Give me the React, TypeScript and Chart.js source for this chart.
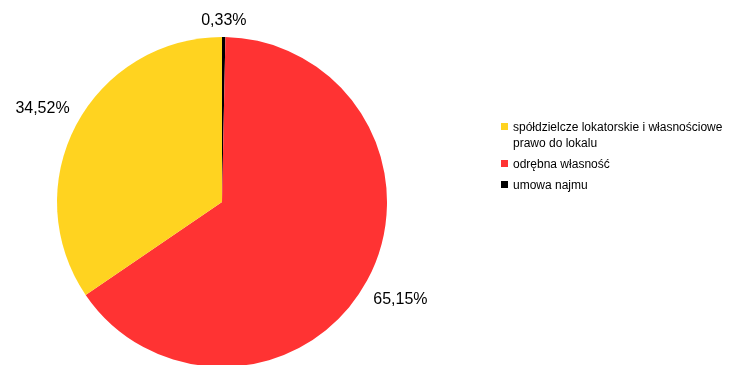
import React, { useEffect, useRef } from "react";
import { Chart, registerables } from "chart.js";

Chart.register(...registerables);

// Data in clockwise order from 12 o'clock
const categories = [
  "umowa najmu",
  "odrębna własność",
  "spółdzielcze lokatorskie i własnościowe prawo do lokalu",
];
const values = [0.33, 65.15, 34.52];
const valueLabels = ["0,33%", "65,15%", "34,52%"];
const colors = ["#000000", "#FF3333", "#FFD320"];

// Legend order (top to bottom) and wrapped lines
const legendOrder = [2, 1, 0];
const legendLines = [
  ["umowa najmu"],
  ["odrębna własność"],
  ["spółdzielcze lokatorskie i własnościowe", "prawo do lokalu"],
];

const W = 733;
const H = 365;
const CH = 400;

const overlayPlugin = {
  id: "overlay",
  afterDraw(chart: any) {
    const ctx = chart.ctx as CanvasRenderingContext2D;
    const meta = chart.getDatasetMeta(0);
    ctx.save();
    // value labels
    ctx.font = "16px 'Liberation Sans', Arial, sans-serif";
    ctx.fillStyle = "#000";
    ctx.textAlign = "center";
    ctx.textBaseline = "middle";
    meta.data.forEach((arc: any, i: number) => {
      const mid = (arc.startAngle + arc.endAngle) / 2;
      const dx = Math.cos(mid);
      const dy = Math.sin(mid);
      const tw = ctx.measureText(valueLabels[i]).width;
      const hw = tw / 2;
      const hh = 6.5;
      const d = arc.outerRadius + 11 + Math.abs(dx) * hw + Math.abs(dy) * hh;
      const cx = arc.x + dx * d;
      const cy = arc.y + dy * d;
      ctx.fillText(valueLabels[i], cx, cy + 1);
    });
    // legend
    ctx.font = "12px 'Liberation Sans', Arial, sans-serif";
    ctx.textAlign = "left";
    ctx.textBaseline = "alphabetic";
    let y = 131;
    legendOrder.forEach((idx) => {
      const lines = legendLines[idx];
      ctx.fillStyle = colors[idx];
      ctx.fillRect(501, y - 8, 7, 7);
      ctx.fillStyle = "#000";
      lines.forEach((ln, j) => {
        ctx.fillText(ln, 513, y + j * 16);
      });
      y += (lines.length - 1) * 16 + 21;
    });
    ctx.restore();
  },
};

export default function App() {
  const ref = useRef<HTMLCanvasElement>(null);
  useEffect(() => {
    document.body.style.margin = "0";
    const chart = new Chart(ref.current!, {
      type: "pie",
      data: {
        labels: categories,
        datasets: [
          {
            data: values,
            backgroundColor: colors,
            borderWidth: 0,
          },
        ],
      },
      options: {
        responsive: false,
        animation: false,
        devicePixelRatio: 1,
        rotation: 0,
        layout: {
          padding: { left: 57, top: 37, right: 346, bottom: 33 },
        },
        plugins: {
          legend: { display: false },
          tooltip: { enabled: false },
        },
      },
      plugins: [overlayPlugin],
    });
    return () => chart.destroy();
  }, []);
  return (
    <div
      style={{
        position: "fixed",
        left: 0,
        top: 0,
        width: W,
        height: H,
        overflow: "hidden",
        background: "#fff",
      }}
    >
      <canvas ref={ref} width={W} height={CH} style={{ width: W, height: CH, display: "block" }} />
    </div>
  );
}
